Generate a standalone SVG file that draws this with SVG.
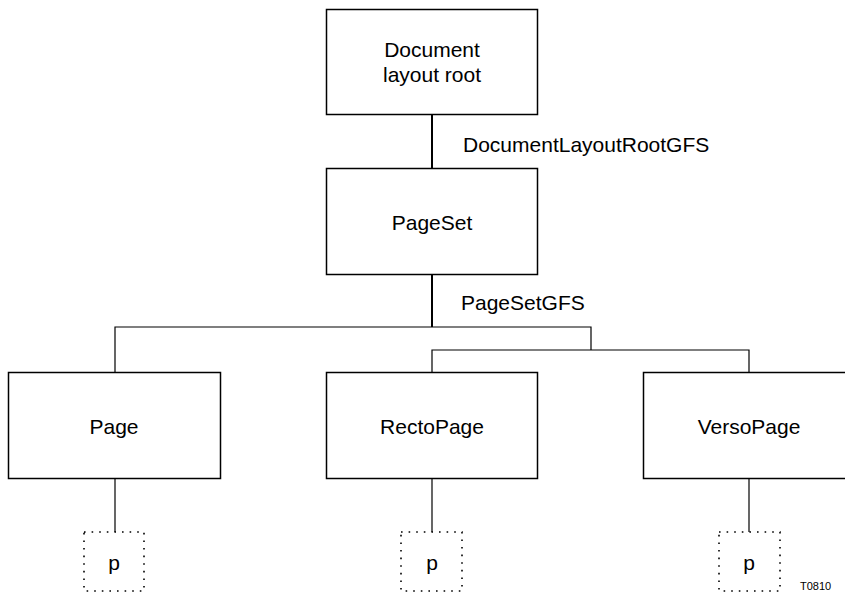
<svg xmlns="http://www.w3.org/2000/svg" width="845" height="592" viewBox="0 0 845 592">
<style>
.box{fill:#fff;stroke:#000;stroke-width:1.5}
.dot{fill:none;stroke:#000;stroke-width:1.6;stroke-dasharray:1.6 6}
.ln{fill:none;stroke:#000;stroke-width:1.2}
text{font-family:"Liberation Sans",Arial,sans-serif;font-size:21px;fill:#000}
.c{text-anchor:middle}
</style>
<rect width="845" height="592" fill="#fff"/>
<g id="connectors">
<line class="ln" x1="432" y1="114" x2="432" y2="168" style="stroke-width:2"/>
<line class="ln" x1="432" y1="274" x2="432" y2="327" style="stroke-width:2"/>
<polyline class="ln" points="115,372 115,327 591,327 591,350"/>
<polyline class="ln" points="432,372 432,350 749,350 749,372"/>
<line class="ln" x1="115" y1="478" x2="115" y2="532"/>
<line class="ln" x1="432" y1="478" x2="432" y2="532"/>
<line class="ln" x1="749" y1="478" x2="749" y2="532"/>
<text x="463" y="152">DocumentLayoutRootGFS</text>
<text x="461" y="310">PageSetGFS</text>
</g>
<g id="root">
<rect class="box" x="326.5" y="9.5" width="211" height="105"/>
<text class="c" x="432" y="57">Document</text>
<text class="c" x="432" y="82">layout root</text>
</g>
<g id="pageset">
<rect class="box" x="326.5" y="168.5" width="211" height="106"/>
<text class="c" x="432" y="230">PageSet</text>
</g>
<g id="page">
<rect class="box" x="8.5" y="372.5" width="212" height="106"/>
<text class="c" x="114" y="434">Page</text>
</g>
<g id="rectopage">
<rect class="box" x="326.5" y="372.5" width="211" height="106"/>
<text class="c" x="432" y="434">RectoPage</text>
</g>
<g id="versopage">
<rect class="box" x="643.5" y="372.5" width="212" height="106"/>
<text class="c" x="749" y="434">VersoPage</text>
</g>
<g id="p1">
<rect class="dot" x="84" y="532" width="60" height="59"/>
<text class="c" x="114" y="570">p</text>
</g>
<g id="p2">
<rect class="dot" x="401" y="532" width="61" height="59"/>
<text class="c" x="432" y="570">p</text>
</g>
<g id="p3">
<rect class="dot" x="719" y="532" width="61" height="59"/>
<text class="c" x="749" y="570">p</text>
</g>
<text x="800" y="590" style="font-size:11px">T0810</text>
</svg>
